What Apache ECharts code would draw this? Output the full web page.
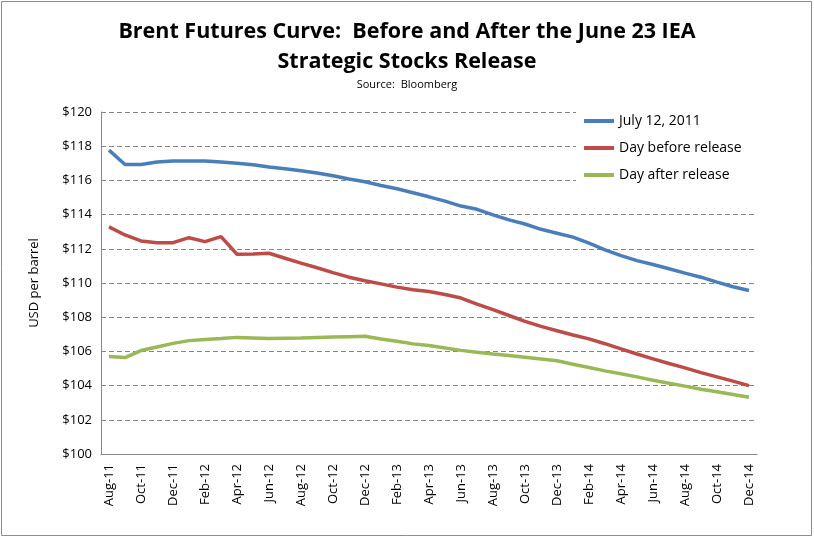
<!DOCTYPE html>
<html>
<head>
<meta charset="utf-8">
<script src="https://cdn.jsdelivr.net/npm/echarts@6/dist/echarts.min.js"></script>
<style>
  html, body { margin: 0; padding: 0; background: #fff; }
  #main { width: 814px; height: 538px; }
</style>
</head>
<body>
<div id="main"></div>
<script>
var months = ['Aug-11','Sep-11','Oct-11','Nov-11','Dec-11','Jan-12','Feb-12','Mar-12','Apr-12','May-12',
    'Jun-12','Jul-12','Aug-12','Sep-12','Oct-12','Nov-12','Dec-12','Jan-13','Feb-13','Mar-13',
    'Apr-13','May-13','Jun-13','Jul-13','Aug-13','Sep-13','Oct-13','Nov-13','Dec-13','Jan-14',
    'Feb-14','Mar-14','Apr-14','May-14','Jun-14','Jul-14','Aug-14','Sep-14','Oct-14','Nov-14','Dec-14'];

var july12 = [117.77,116.93,116.93,117.07,117.13,117.13,117.13,117.07,117.0,116.91,
    116.78,116.68,116.56,116.43,116.27,116.08,115.92,115.7,115.51,115.28,
    115.04,114.79,114.5,114.31,113.98,113.69,113.45,113.14,112.91,112.68,
    112.33,111.94,111.6,111.31,111.08,110.83,110.58,110.34,110.05,109.78,109.56];

var dayBefore = [113.28,112.81,112.46,112.36,112.36,112.65,112.42,112.71,111.68,111.7,
    111.74,111.45,111.16,110.89,110.61,110.34,110.13,109.95,109.76,109.6,
    109.5,109.33,109.12,108.77,108.44,108.1,107.76,107.46,107.21,106.96,
    106.73,106.45,106.15,105.85,105.56,105.29,105.04,104.76,104.51,104.26,104.0];

var dayAfter = [105.7,105.64,106.05,106.26,106.47,106.63,106.69,106.75,106.82,106.79,
    106.75,106.77,106.79,106.82,106.84,106.86,106.88,106.73,106.59,106.44,
    106.34,106.2,106.06,105.95,105.85,105.76,105.66,105.56,105.45,105.25,
    105.06,104.86,104.69,104.51,104.31,104.14,103.97,103.79,103.64,103.48,103.32];

var seriesNames = ['July 12, 2011', 'Day before release', 'Day after release'];
var colors = ['#4a7ebb', '#be4b48', '#98b954'];

var myChart = echarts.init(document.getElementById('main'));

function lineSeries(name, data, color) {
    return {
        name: name,
        type: 'line',
        data: data,
        showSymbol: false,
        symbol: 'none',
        lineStyle: { width: 3.5, color: color },
        itemStyle: { color: color }
    };
}

var option = {
    animation: false,
    backgroundColor: '#fff',
    textStyle: { fontFamily: 'Open Sans, Liberation Sans, sans-serif', color: '#000' },
    title: {
        text: 'Brent Futures Curve:  Before and After the June 23 IEA\nStrategic Stocks Release',
        subtext: 'Source:  Bloomberg',
        left: 'center',
        top: 12,
        itemGap: 2,
        textStyle: {
            fontFamily: 'Open Sans, sans-serif',
            fontSize: 21.5,
            fontWeight: 'bold',
            color: '#000',
            lineHeight: 30
        },
        subtextStyle: { fontSize: 11, color: '#000' }
    },
    legend: {
        data: seriesNames,
        orient: 'vertical',
        left: 576,
        top: 110,
        icon: 'rect',
        itemWidth: 30,
        itemHeight: 4,
        itemGap: 13,
        backgroundColor: '#fff',
        padding: [4, 20, 8, 8],
        textStyle: { fontSize: 14, color: '#000' }
    },
    graphic: [{
        type: 'rect',
        shape: { x: 1.5, y: 1.5, width: 810, height: 534 },
        style: { fill: null, stroke: '#8c8c8c', lineWidth: 1 },
        silent: true
    }],
    grid: { left: 101, right: 57, top: 112, bottom: 84 },
    xAxis: {
        type: 'category',
        data: months,
        boundaryGap: true,
        axisLine: { lineStyle: { color: '#868686' } },
        axisTick: { interval: 1, length: 5, lineStyle: { color: '#868686' } },
        axisLabel: { interval: 1, rotate: 90, fontSize: 13, color: '#000', margin: 10 }
    },
    yAxis: {
        type: 'value',
        min: 100,
        max: 120,
        interval: 2,
        name: 'USD per barrel',
        nameLocation: 'middle',
        nameGap: 60,
        nameTextStyle: { fontSize: 13, color: '#000' },
        axisLine: { show: true, lineStyle: { color: '#868686' } },
        axisTick: { show: false },
        axisLabel: { formatter: '${value}', fontSize: 13, color: '#000', margin: 9 },
        splitLine: { lineStyle: { color: '#868686', type: [5, 3], width: 1 } }
    },
    series: [
        lineSeries(seriesNames[0], july12, colors[0]),
        lineSeries(seriesNames[1], dayBefore, colors[1]),
        lineSeries(seriesNames[2], dayAfter, colors[2])
    ]
};

myChart.setOption(option);
</script>
</body>
</html>
